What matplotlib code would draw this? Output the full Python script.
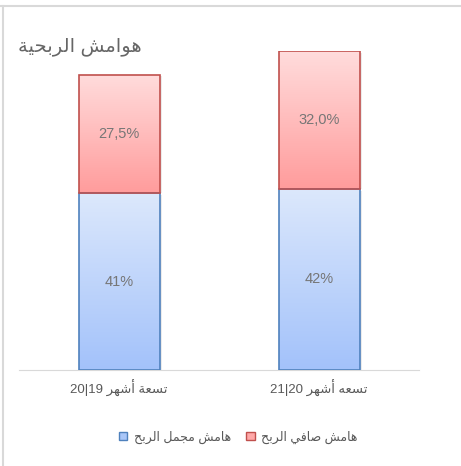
import re
import numpy as np
import matplotlib
matplotlib.use("Agg")
import matplotlib.pyplot as plt
from matplotlib.patches import Patch
from matplotlib.lines import Line2D

# data
periods = ["تسعة أشهر 19|20", "تسعه أشهر 20|21"]
gross_margin = [41, 42]
net_margin = [27.5, 32.0]
gross_labels = ["41%", "42%"]
net_labels = ["27,5%", "32,0%"]
title = "هوامش الربحية"
series_names = ["هامش مجمل الربح", "هامش صافي الربح"]

# arabic presentation forms: isolated, final, initial, medial
FORMS = {
    'ا': ('\uFE8D', '\uFE8E', None, None),
    'أ': ('\uFE83', '\uFE84', None, None),
    'ب': ('\uFE8F', '\uFE90', '\uFE91', '\uFE92'),
    'ة': ('\uFE93', '\uFE94', None, None),
    'ت': ('\uFE95', '\uFE96', '\uFE97', '\uFE98'),
    'ج': ('\uFE9D', '\uFE9E', '\uFE9F', '\uFEA0'),
    'ح': ('\uFEA1', '\uFEA2', '\uFEA3', '\uFEA4'),
    'ر': ('\uFEAD', '\uFEAE', None, None),
    'س': ('\uFEB1', '\uFEB2', '\uFEB3', '\uFEB4'),
    'ش': ('\uFEB5', '\uFEB6', '\uFEB7', '\uFEB8'),
    'ص': ('\uFEB9', '\uFEBA', '\uFEBB', '\uFEBC'),
    'ع': ('\uFEC9', '\uFECA', '\uFECB', '\uFECC'),
    'ف': ('\uFED1', '\uFED2', '\uFED3', '\uFED4'),
    'ل': ('\uFEDD', '\uFEDE', '\uFEDF', '\uFEE0'),
    'م': ('\uFEE1', '\uFEE2', '\uFEE3', '\uFEE4'),
    'ه': ('\uFEE9', '\uFEEA', '\uFEEB', '\uFEEC'),
    'و': ('\uFEED', '\uFEEE', None, None),
    'ي': ('\uFEF1', '\uFEF2', '\uFEF3', '\uFEF4'),
}


def ar(s):
    out = []
    for i, c in enumerate(s):
        if c not in FORMS:
            out.append(c)
            continue
        prev = s[i - 1] if i > 0 else ''
        nxt = s[i + 1] if i + 1 < len(s) else ''
        jp = prev in FORMS and FORMS[prev][2] is not None
        jn = FORMS[c][2] is not None and nxt in FORMS
        iso, fin, ini, med = FORMS[c]
        out.append(med if jp and jn else fin if jp else ini if jn else iso)
    vis = ''.join(out)[::-1]
    return re.sub(r'\d+', lambda m: m.group(0)[::-1], vis)


plt.rcParams['font.family'] = ['Liberation Sans', 'DejaVu Sans']
grey = '#595959'

fig = plt.figure(figsize=(4.61, 4.66), dpi=100)
ax = fig.add_axes([19 / 461, 96 / 466, 400 / 461, 319 / 466])

x = np.arange(len(periods))
w = 0.405
b1 = ax.bar(x, gross_margin, w, facecolor='none', edgecolor='#4F81BD', lw=1.2, zorder=3)
b2 = ax.bar(x, net_margin, w, bottom=gross_margin, facecolor='none', edgecolor='#C0504D', lw=1.2, zorder=3)


def gradient(bars, top, bottom):
    grad = np.linspace(0, 1, 100)[:, None, None]
    c = np.array(top)[None, None, :] * (1 - grad) + np.array(bottom)[None, None, :] * grad
    for r in bars:
        x0, y0, ww, hh = r.get_x(), r.get_y(), r.get_width(), r.get_height()
        # soft shadow
        ax.add_patch(plt.Rectangle((x0 + 0.012, y0), ww, hh - 0.4, color='#000000', alpha=0.08, lw=0, zorder=1))
        im = ax.imshow(c, extent=[x0, x0 + ww, y0, y0 + hh], aspect='auto', origin='upper', zorder=2)
        im.set_clip_path(r)


gradient(b1, (220 / 255, 232 / 255, 252 / 255), (163 / 255, 194 / 255, 250 / 255))
gradient(b2, (255 / 255, 220 / 255, 220 / 255), (255 / 255, 156 / 255, 156 / 255))

for i in x:
    ax.text(i, gross_margin[i] / 2, gross_labels[i], ha='center', va='center', fontsize=10.5, color='#767676', zorder=4)
    ax.text(i, gross_margin[i] + net_margin[i] / 2, net_labels[i], ha='center', va='center', fontsize=10.5, color='#767676', zorder=4)

ax.set_xlim(-0.5, 1.5)
ax.set_ylim(0, 74)
ax.set_xticks(x)
ax.set_xticklabels([ar(p) for p in periods], fontsize=9.5, color=grey)
ax.tick_params(axis='x', length=0, pad=7)
ax.set_yticks([])
for s in ['top', 'right', 'left']:
    ax.spines[s].set_visible(False)
ax.spines['bottom'].set_color('#D9D9D9')

fig.text(18 / 461, 1 - 47 / 466, ar(title), ha='left', va='center', fontsize=14, color='#666666')

handles = [Patch(facecolor='#A9C6F8', edgecolor='#4F81BD'), Patch(facecolor='#FFA8A8', edgecolor='#C0504D')]
fig.legend(handles, [ar(n) for n in series_names], loc='center', bbox_to_anchor=(238 / 461, 1 - 437 / 466),
           ncol=2, frameon=False, fontsize=9, handlelength=0.7, handleheight=0.7, handletextpad=0.5,
           columnspacing=1.2, labelcolor=grey)

# frame lines
fig.add_artist(Line2D([0, 1], [1 - 6 / 466, 1 - 6 / 466], color='#D9D9D9', lw=1.5))
fig.add_artist(Line2D([2.5 / 461, 2.5 / 461], [0, 1 - 6 / 466], color='#D9D9D9', lw=1.5))

fig.savefig('out.png', dpi=100)
